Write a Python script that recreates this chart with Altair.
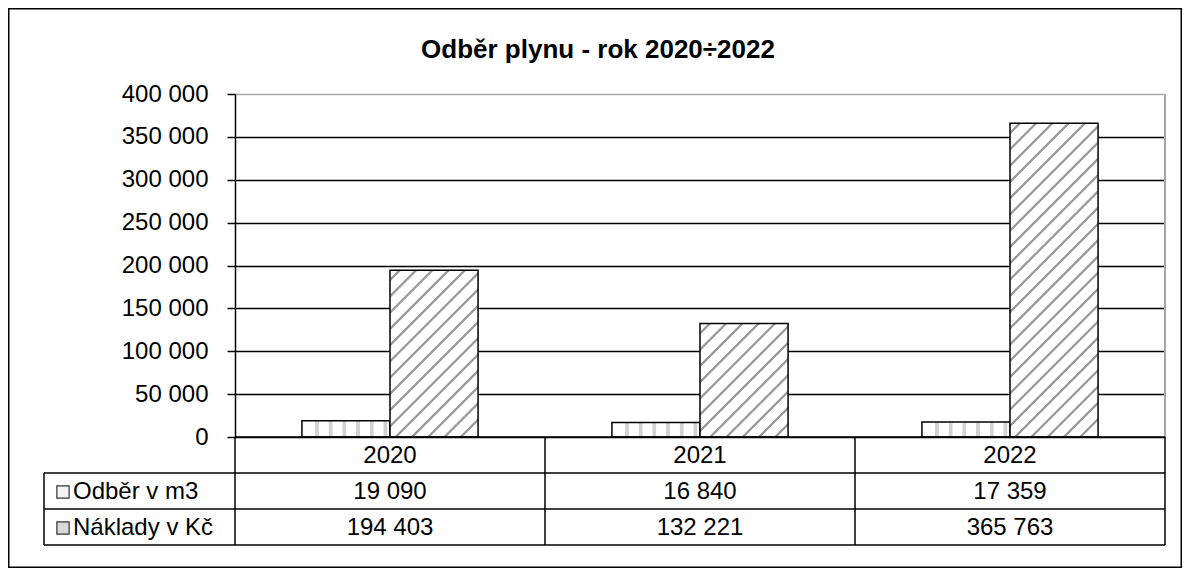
import math
import altair as alt
import pandas as pd

# ---------------- data ----------------
years = ["2020", "2021", "2022"]
series = ["Odběr v m3", "Náklady v Kč"]
odber = [19090, 16840, 17359]
naklady = [194403, 132221, 365763]
y_ticks = [0, 50000, 100000, 150000, 200000, 250000, 300000, 350000, 400000]
title_text = "Odběr plynu - rok 2020÷2022"

# ---------------- layout / style ----------------
W, H = 930, 343
YMAX = 400000
ROW = 36
LABEL_W = 191
PAD = {"left": 227, "top": 86, "right": 17, "bottom": 131}
FONT = "Liberation Sans"
FS = 24
BAR_W = W / len(years) / (2 + 2 * 0.76)


def fmt(v):
    return f"{v:,}".replace(",", " ")


rows = []
for i, yr in enumerate(years):
    rows.append(dict(year=yr, series=series[0], value=odber[i], label=fmt(odber[i])))
    rows.append(dict(year=yr, series=series[1], value=naklady[i], label=fmt(naklady[i])))
df = pd.DataFrame(rows)
df_years = pd.DataFrame({"year": years})
one = pd.DataFrame({"k": [0]})


def _stripe_stops(length, centers, lw, color, edge=0.8):
    stops = [{"offset": 0, "color": "white"}]
    last = 0.0
    for d in centers:
        pts = [d - lw / 2 - edge, d - lw / 2, d + lw / 2, d + lw / 2 + edge]
        cols = ["white", color, color, "white"]
        for p, c in zip(pts, cols):
            o = round(min(max(p / length, last), 1.0), 5)
            if o < last:
                o = last
            stops.append({"offset": o, "color": c})
            last = o
    stops.append({"offset": 1, "color": "white"})
    return stops


def vstripes(w, period=13.7, first=15, lw=3.0, color="#d2d2d2"):
    centers = []
    d = first
    while d + lw / 2 + 1 < w:
        centers.append(d)
        d += period
    return {"gradient": "linear", "x1": 0, "y1": 0, "x2": 1, "y2": 0,
            "stops": _stripe_stops(w, centers, lw, color)}


def dstripes(w, h, period=11.5, lw=1.5, color="#9a9a9a"):
    L = (w + h) / math.sqrt(2)
    s = (w + h) / (w * w + h * h)
    a, b = w * s, h * s
    centers = []
    d = period * 0.6
    while d + lw < L:
        centers.append(d)
        d += period
    return {"gradient": "linear", "x1": 0, "y1": 0, "x2": round(a, 5), "y2": round(b, 5),
            "stops": _stripe_stops(L, centers, lw, color)}


year_scale = alt.Scale(domain=years, paddingInner=0, paddingOuter=0)
xenc = alt.X("year:N", sort=years, scale=year_scale, axis=None)
xoff = alt.XOffset("series:N", sort=series,
                   scale=alt.Scale(domain=series, paddingInner=0, paddingOuter=0.76))
yenc = alt.Y("value:Q",
             scale=alt.Scale(domain=[0, YMAX], nice=False),
             axis=alt.Axis(values=y_ticks, title=None,
                           labelExpr="replace(format(datum.value, ','), ',', ' ')",
                           labelFont=FONT, labelFontSize=FS, labelColor="black",
                           labelPadding=19,
                           domainColor="black", domainWidth=1.5,
                           tickColor="black", tickSize=8, tickWidth=1.5,
                           grid=True, gridWidth=1.3,
                           gridColor={"condition": {"test": "datum.value >= 400000",
                                                    "value": "#a6a6a6"},
                                      "value": "black"}))

base = alt.Chart(df)

layers = []

# outer chart border
layers.append(
    alt.Chart(one).mark_rect(fill="white", fillOpacity=0, stroke="black", strokeWidth=1.5).encode(
        x=alt.value(-PAD["left"] + 0.75), x2=alt.value(W + PAD["right"] - 0.75),
        y=alt.value(-PAD["top"] + 0.75), y2=alt.value(H + PAD["bottom"] - 0.75))
)

# title
layers.append(
    alt.Chart(pd.DataFrame({"t": [title_text]}))
    .mark_text(font=FONT, fontSize=26, fontWeight="bold", color="black",
               align="center", baseline="middle")
    .encode(x=alt.value(363), y=alt.value(-44), text="t:N")
)

# Odběr bars (vertical stripes)
layers.append(
    base.transform_filter(alt.datum.series == series[0])
    .mark_bar(fill=vstripes(BAR_W), stroke="black", strokeWidth=1.5)
    .encode(x=xenc, xOffset=xoff, y=yenc)
)

# Náklady bars (diagonal hatch), one layer per bar so hatch angle stays 45°
for i, yr in enumerate(years):
    h = naklady[i] / YMAX * H
    layers.append(
        base.transform_filter((alt.datum.series == series[1]) & (alt.datum.year == yr))
        .mark_bar(fill=dstripes(BAR_W, h), stroke="black", strokeWidth=1.5)
        .encode(x=xenc, xOffset=xoff, y="value:Q")
    )

# right plot border (gray)
layers.append(
    alt.Chart(one).mark_rule(color="#a6a6a6", strokeWidth=2).encode(
        x=alt.value(W), y=alt.value(0), y2=alt.value(H))
)

# ---------------- data table ----------------
layers.append(
    alt.Chart(df_years).mark_rule(color="black", strokeWidth=1.5).encode(
        x=alt.X("year:N", sort=years, bandPosition=0, scale=year_scale, axis=None),
        y=alt.value(H), y2=alt.value(H + 3 * ROW))
)
layers.append(
    alt.Chart(one).mark_rule(color="black", strokeWidth=1.5).encode(
        x=alt.value(W), y=alt.value(H), y2=alt.value(H + 3 * ROW))
)
layers.append(
    alt.Chart(one).mark_rule(color="black", strokeWidth=1.5).encode(
        x=alt.value(-LABEL_W), y=alt.value(H + ROW), y2=alt.value(H + 3 * ROW))
)
layers.append(
    alt.Chart(one).mark_rule(color="black", strokeWidth=1.5).encode(
        x=alt.value(0), x2=alt.value(W), y=alt.value(H))
)
for k in (1, 2, 3):
    layers.append(
        alt.Chart(one).mark_rule(color="black", strokeWidth=1.5).encode(
            x=alt.value(-LABEL_W), x2=alt.value(W), y=alt.value(H + k * ROW))
    )

layers.append(
    alt.Chart(df_years).mark_text(font=FONT, fontSize=FS, color="black", baseline="middle", align="center")
    .encode(x=alt.X("year:N", sort=years, bandPosition=0.5, scale=year_scale, axis=None),
            y=alt.value(H + ROW / 2 + 1), text="year:N")
)

legend_fill = ["#f4f4f4", "#d9d9d9"]
for j, s in enumerate(series):
    yc = H + ROW * (j + 1) + ROW / 2 + 1
    layers.append(
        base.transform_filter(alt.datum.series == s)
        .mark_text(font=FONT, fontSize=FS, color="black", baseline="middle", align="center")
        .encode(x=alt.X("year:N", sort=years, bandPosition=0.5, scale=year_scale, axis=None),
                y=alt.value(yc), text="label:N")
    )
    layers.append(
        alt.Chart(pd.DataFrame({"series": [s]}))
        .mark_text(font=FONT, fontSize=FS, color="black", baseline="middle", align="left")
        .encode(x=alt.value(-LABEL_W + 29), y=alt.value(yc), text="series:N")
    )
    layers.append(
        alt.Chart(pd.DataFrame({"series": [s]}))
        .mark_point(shape="square", size=150, filled=True, fill=legend_fill[j],
                    stroke="#333333", strokeWidth=1.2, opacity=1)
        .encode(x=alt.value(-LABEL_W + 19), y=alt.value(yc))
    )

chart = (
    alt.layer(*layers)
    .properties(
        width=W, height=H,
        autosize=alt.AutoSizeParams(type="none"),
        padding=PAD,
        background="white",
    )
    .configure_view(stroke=None)
)

chart.save("out.html", embed_options={"renderer": "svg", "actions": False})
